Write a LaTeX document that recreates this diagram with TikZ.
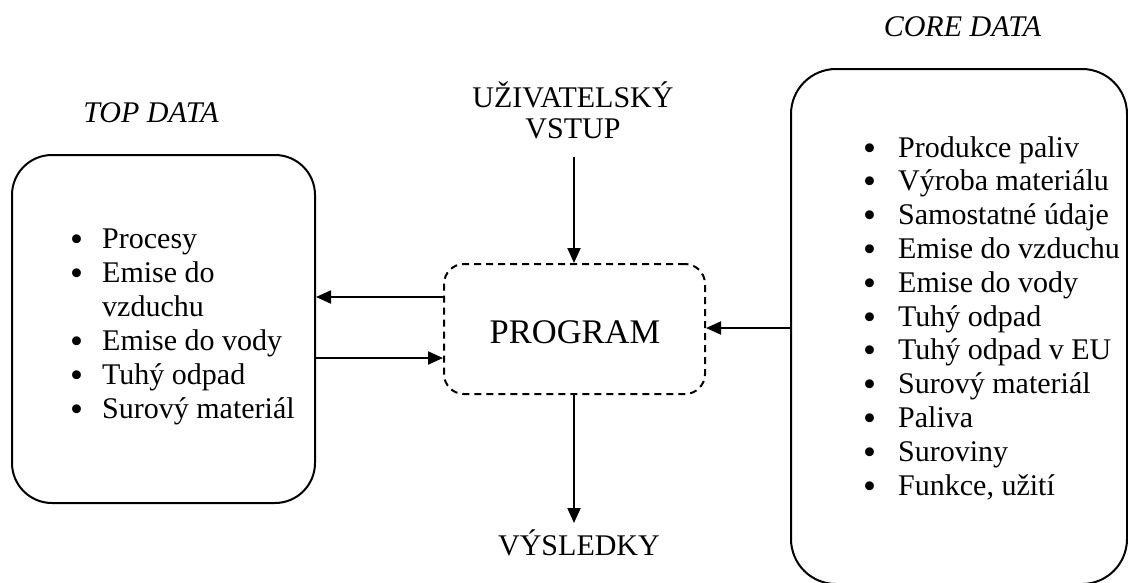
\documentclass[tikz,border=0pt]{standalone}
\usepackage{fontspec}
\setmainfont{Liberation Serif}
\usetikzlibrary{arrows.meta}
\begin{document}
\begin{tikzpicture}[x=1pt,y=-1pt,
  box/.style={draw, line width=2pt, inner sep=0},
  arr/.style={-{Triangle[length=15pt,width=13pt]}, line width=2pt},
  txt/.style={inner sep=0, anchor=base, font=\fontsize{30}{31}\selectfont},
  item/.style={inner sep=0, anchor=base west, font=\fontsize{30}{34}\selectfont},
  bul/.style={inner sep=0, anchor=base west, font=\fontsize{37}{34}\selectfont}]
\useasboundingbox (0,0) rectangle (1128,582);
% boxes
\node[box, rounded corners=40pt, minimum width=303pt, minimum height=348pt] (top) at (163.5,329) {};
\node[box, rounded corners=45pt, minimum width=336pt, minimum height=515pt] (core) at (959,326.5) {};
\node[box, dashed, dash pattern=on 7pt off 5pt, rounded corners=20pt, minimum width=261pt, minimum height=130pt] (prog) at (574.5,329) {};
\node[txt, font=\fontsize{34.5}{36}\selectfont] (progt) at (575,343) {PROGRAM};
% titles
\node[txt, font=\fontsize{30}{31}\itshape] (toplbl) at (151,122) {TOP DATA};
\node[txt, font=\fontsize{30}{31}\itshape] (corelbl) at (962.5,36) {CORE DATA};
\node[txt, align=center] (usr) at (573,138) {UŽIVATELSKÝ\\VSTUP};
\node[txt] (res) at (579,555) {VÝSLEDKY};
% left list
\foreach \t [count=\i from 0] in {Procesy,Emise do,,Emise do vody,Tuhý odpad,Surový materiál}{
  \ifnum\i=2\relax\else
  \node[bul] (tb\i) at (70,{251+34*\i}) {\textbullet};
  \node[item] (ti\i) at (102,{248+34*\i}) {\t};
  \fi
}
\node[item] (ti2) at (102,{248+34*2}) {vzduchu};
% right list
\foreach \t [count=\i from 0] in {Produkce paliv,Výroba materiálu,Samostatné údaje,Emise do vzduchu,Emise do vody,Tuhý odpad,Tuhý odpad v EU,Surový materiál,Paliva,Suroviny,{Funkce, užití}}{
  \node[bul] (cb\i) at (863,{160+33.8*\i}) {\textbullet};
  \node[item] (ci\i) at (898,{157+33.8*\i}) {\t};
}
% connectors
\coordinate (ya) at (0,297);
\coordinate (yb) at (0,358);
\coordinate (yc) at (0,328);
\draw[arr] (prog.west |- ya) -- (top.east |- ya);
\draw[arr] (top.east |- yb) -- (prog.west |- yb);
\draw[arr] (core.west |- yc) -- (prog.east |- yc);
\coordinate (ua) at (574,157);
\coordinate (rb) at (574,523);
\draw[arr] (ua) -- (prog.north -| ua);
\draw[arr] (prog.south -| rb) -- (rb);
\end{tikzpicture}
\end{document}
